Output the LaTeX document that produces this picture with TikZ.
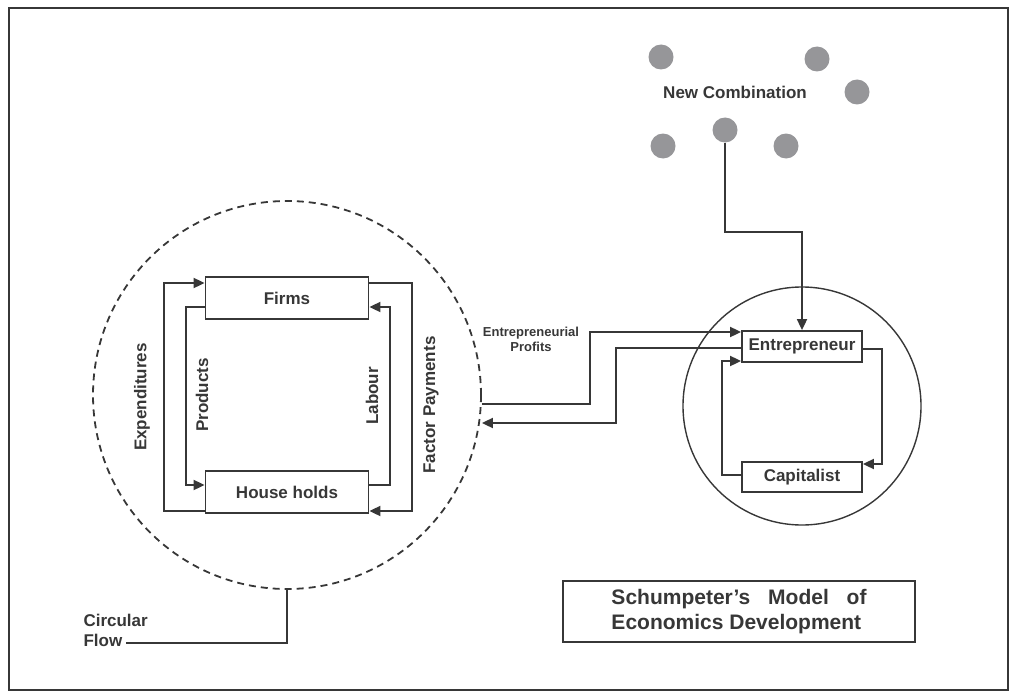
\documentclass[tikz,border=0pt]{standalone}
\usepackage{fontspec}
\setmainfont{Liberation Sans}
\usetikzlibrary{positioning, arrows.meta, calc}
\definecolor{inkDark}{RGB}{55,55,55}
\definecolor{dotGray}{RGB}{150,150,153}
\tikzset{
  every node/.style={font=\bfseries\fontsize{17}{20}\selectfont, text=inkDark},
  B/.style={draw=inkDark, fill=white, line width=1.8pt, inner sep=0pt, align=center},
  AR/.style={-{Triangle[length=11pt,width=10pt]}, line width=1.8pt, draw=inkDark},
  LN/.style={line width=1.8pt, draw=inkDark},
  DOT/.style={circle, fill=dotGray, minimum size=25pt, inner sep=0pt},
}

\begin{document}
\begin{tikzpicture}[x=1pt, y=1pt, yscale=-1]
\useasboundingbox (0,0) rectangle (1016,698);
\draw[line width=2.5pt, draw=inkDark] (9,8) rectangle (1008,690);

%% ═══════════════════════════════════════════════════════════════════════════
%%  Circular flow
%% ═══════════════════════════════════════════════════════════════════════════

\node[circle, draw=inkDark, line width=1.8pt, dash pattern=on 7pt off 5pt,
  minimum size=388pt, inner sep=0pt] (CF) at (287,395) {};

\node[B, minimum width=163pt, minimum height=42pt] (FIRMS) at (287,298) {Firms};
\node[B, minimum width=163pt, minimum height=42pt] (HH) at (287,492) {House holds};

\draw[AR] (HH.west |- 0,511) -| (164,283) -- (FIRMS.west |- 0,283);
\draw[AR] (FIRMS.west |- 0,307) -| (186,485) -- (HH.west |- 0,485);
\draw[AR] (HH.east |- 0,485) -| (390,307) -- (FIRMS.east |- 0,307);
\draw[AR] (FIRMS.east |- 0,283) -| (412,511) -- (HH.east |- 0,511);

\node[rotate=90] (EXP) at (142,397) {Expenditures};
\node[rotate=90] (PROD) at (202,395) {Products};
\node[rotate=90] (LAB) at (372,396) {Labour};
\node[rotate=90] (FAC) at (431,405) {Factor Payments};

\node[anchor=west, align=left] (CFL) at (80,630) {Circular\\Flow};
\coordinate (CFend) at (126,643);
\draw[LN] (CF.south) |- (CFend);

%% ═══════════════════════════════════════════════════════════════════════════
%%  Entrepreneur / Capitalist
%% ═══════════════════════════════════════════════════════════════════════════

\node[circle, draw=inkDark, line width=1.4pt, minimum size=238pt, inner sep=0pt] (EC) at (802,406) {};

\node[B, minimum width=120pt, minimum height=31pt] (ENT) at (802,346.5) {Entrepreneur};
\node[B, minimum width=120pt, minimum height=30pt] (CAP) at (802,477) {Capitalist};

\draw[AR] (ENT.east |- 0,349) -| (882,464) -- (CAP.east |- 0,464);
\draw[AR] (CAP.west |- 0,475) -| (722,361) -- (ENT.west |- 0,361);

\node[font=\bfseries\fontsize{13}{15}\selectfont, align=center] (EPL) at (531,339)
  {Entrepreneurial\\Profits};
\draw[AR] (CF.east |- 0,404) -| (590,332) -- (ENT.west |- 0,332);
\draw[AR] (ENT.west |- 0,348) -| (616,423) -- (CF.east |- 0,423);

%% New combination
\node[DOT] (NC1) at (661,57) {};
\node[DOT] (NC2) at (817,59) {};
\node[DOT] (NC3) at (857,92) {};
\node[DOT] (NC4) at (725,130) {};
\node[DOT] (NC5) at (663,146) {};
\node[DOT] (NC6) at (786,146) {};
\node (NCL) at (735,92) {New Combination};

\draw[AR] (NC4.south) |- (ENT.north |- 0,232) -- (ENT.north);

%% Title
\node[B, line width=2pt, minimum width=352pt, minimum height=61pt, align=left,
  font=\bfseries\fontsize{21}{25}\selectfont] (TTL) at (739,611.5)
  {Schumpeter's\hspace{12pt} Model\hspace{12pt} of\\Economics Development};

\end{tikzpicture}
\end{document}
